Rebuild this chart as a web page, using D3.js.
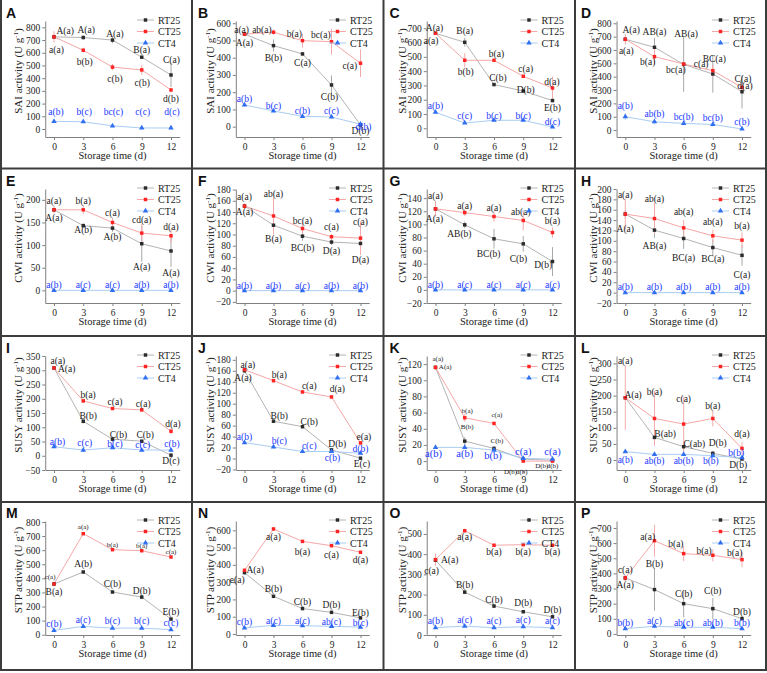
<!DOCTYPE html>
<html>
<head>
<meta charset="utf-8">
<script src="https://cdn.jsdelivr.net/npm/d3@7"></script>
<style>
  body { margin: 0; background: #fff; }
  svg { display: block; }
</style>
</head>
<body>
<div id="chart"></div>
<script>
// ---- data ----
const panelIds = ['A','B','C','D','E','F','G','H','I','J','K','L','M','N','O','P'];
const yTitles = ['SAI','SAI','SAI','SAI','CWI','CWI','CWI','CWI','SUSY','SUSY','SUSY','SUSY','STP','STP','STP','STP'];
const days = [0, 3, 6, 9, 12];
const seriesNames = ['RT25', 'CT25', 'CT4'];

const yDomains = [[-63,850],[-60,613],[-61,751],[-52,817],[-28,224],[-22,181],[-20,154],[-20,200],
                  [-50,350],[-21,187],[-11,130],[-31,323],[-2,807],[-6,654],[0,564],[-7,746]];
const yTickMin  = [0,0,0,0, 0,-20,-20,-20, -50,-20,0,0, 0,0,0,0];
const yTickMax  = [800,600,700,800, 200,180,140,200, 350,180,120,300, 800,600,500,700];
const yTickStep = [100,100,100,100, 50,20,20,20, 50,20,20,50, 100,100,100,100];

const rt25 = [
  [725,720,700,565,425],[537,470,422,242,10],[665,602,306,261,194],[680,620,492,420,287],
  [178,143,137.5,103,87],[150.6,116.5,97,86.5,84],[123.7,99.3,78,70.3,43.3],[151.6,120.6,104.5,87,72],
  [308,121,58,51,2],[160,68,58,15.7,0.6],[115.9,24.7,15.7,2.5,1],[193.4,70.3,41.4,20.7,3],
  [360,445,303,267,111],[355,218,147,125,93],[370,212,143,115,90],[370,293,200,167,101]
];
const ct25 = [
  [725,620,487,465,307],[537,548,499,493,368],[665,476,476,364,282],[680,550,495,445,320],
  [178,178,150,126.5,120.6],[150.6,133,110.6,96,93.5],[123.7,118,112,106,87.6],[151.6,143,125,109.7,101.3],
  [308,192.5,165.7,161,86],[162,142,121.4,112.3,28.4],[115.9,53.6,46.6,0,0],[193.4,129,111.7,129,36],
  [360,717,603.5,596,551.5],[368.5,608,536,511,473],[373,516,444,447,444],[370,616,530.5,519.5,491]
];
const ct4 = [
  [60,57,25,8,8],[126,91,60,56,14],[112,37,56,56,9],[100,62,50,42,8],
  [0,0,0,0,0],[0,0,0,0,0],[0,0,0,0,0],[0,0,0,0,0],
  [31.5,20,28,20,20],[29,21,12.7,12.7,9.7],[17,17,13.6,3.3,2.5],[25.9,17.6,17.6,13.4,7.2],
  [31,59,47,47,35.5],[35,50,48,44,40],[36,44,36,41,36],[35,50.6,44,44,35]
];

const rt25Err = [
  [20,15,25,10,95],[10,35,10,55,10],[10,30,10,10,10],[20,70,205,140,125],
  [5,5,8,40,35],[3,8,8,5,20],[3,5,15,12,22],[8,15,20,15,20],
  [5,8,10,5,5],[3,3,3,3,2],[2,5,3,1,1],[5,25,15,8,3],
  [10,10,10,10,10],[10,10,8,8,8],[10,10,8,5,5],[20,140,90,70,15]
];
const ct25Err = [
  [45,20,25,40,15],[5,15,40,75,80],[10,50,10,10,80],[40,60,15,45,25],
  [8,10,10,20,15],[5,33,10,5,30],[12,5,8,15,8],[30,30,15,12,15],
  [5,8,5,5,10],[3,3,3,3,3],[3,5,2,1,1],[100,85,85,25,20],
  [15,10,10,10,10],[10,10,8,8,8],[30,10,8,8,8],[20,105,50,40,50]
];
const ct4Err = [
  [5,5,8,3,3],[10,8,8,8,5],[10,5,5,5,5],[25,20,15,15,5],
  [1,1,1,1,1],[1,1,1,1,1],[1,1,1,1,1],[1,1,1,1,1],
  [5,5,5,5,5],[2,2,2,2,2],[1,1,1,1,1],[3,3,3,3,3],
  [8,8,8,8,8],[5,5,5,5,5],[3,3,3,3,3],[5,5,5,5,5]
];

// significance letters, their anchor value and day offset
const rt25Labels = [
  ['A(a)','A(a)','A(a)','B(a)','C(a)'],['A(a)','B(b)','C(a)','C(b)','D(b)'],['A(a)','B(a)','C(b)','D(b)','E(b)'],['A(a)','AB(a)','AB(a)','BC(a)','C(a)'],
  ['A(a)','A(b)','A(b)','A(a)','A(a)'],['A(a)','B(a)','BC(b)','D(a)','D(a)'],['A(a)','AB(b)','BC(b)','C(b)','D(b)'],['A(a)','AB(a)','BC(a)','BC(a)','C(a)'],
  ['A(a)','B(b)','C(b)','C(b)','D(c)'],['A(a)','B(b)','C(b)','D(b)','E(c)'],['A(a)','B(b)','C(b)','D(b)','D(b)'],['A(a)','B(ab)','C(ab)','D(b)','D(b)'],
  ['B(a)','A(b)','C(b)','D(b)','E(b)'],['A(a)','B(b)','C(b)','D(b)','E(b)'],['A(a)','B(b)','C(b)','D(b)','D(b)'],['A(a)','B(b)','C(b)','C(b)','D(b)']
];
const rt25LabelY = [
  [775,780,753,627,549],[490,403,374,174,-25],[707,684,357,268,147],[750,738,720,532,383],
  [160,134,119,53,38],[140,93,76.5,71,55],[108.5,85.5,55,48,38],[122.6,89.7,67,66,35],
  [306,142,75,75,-17.5],[146.7,78.5,67,27.8,-10],[116,42.5,24.7,-13,-6],[204,82.8,51.7,54.8,-13.4],
  [303,502,360,315,166],[372,262,185,170,125],[373,250,176,160,123],[326,462,266,288,145]
];
const rt25LabelDx = [
  [1.15,0.3,0.25,0,0.05],[0,0,0,-0.2,0],[-0.1,0,0.4,0.25,0],[0.6,0,0.25,0.15,0.1],
  [0,0,0,0,0],[0,0,0,0,0],[-0.1,-0.55,-0.55,-0.5,-0.95],[0,0,0,0,0],
  [1.3,0.5,0.6,0.35,0],[-0.15,0.6,0.7,0.6,0.15],[1.0,0.25,0.3,-1.3,-1.1],[0.8,1.1,1.1,0.5,-0.4],
  [0,0,0,0,0],[1.1,0,0,0,0],[1.45,0,0,0,0],[0,0,0,0,0]
];
const ct25Labels = [
  ['a(a)','b(b)','c(b)','c(b)','d(b)'],['a(a)','ab(a)','b(a)','bc(a)','c(a)'],['a(a)','b(b)','b(a)','c(a)','d(a)'],['a(a)','b(a)','bc(a)','c(a)','d(a)'],
  ['a(a)','b(a)','c(a)','cd(a)','d(a)'],['a(a)','ab(a)','bc(a)','c(a)','c(a)'],['a(a)','a(a)','a(a)','ab(a)','b(a)'],['a(a)','ab(a)','ab(a)','ab(a)','b(a)'],
  ['a(a)','b(a)','c(a)','c(a)','d(a)'],['a(a)','b(a)','c(a)','d(a)','e(a)'],['a(a)','b(a)','c(a)','d(b)','d(b)'],['a(a)','b(a)','c(a)','b(a)','d(a)'],
  ['c(a)','a(a)','b(a)','b(a)','c(a)'],['e(a)','a(a)','b(a)','c(a)','d(a)'],['c(a)','a(a)','b(a)','b(a)','b(a)'],['c(a)','a(a)','b(a)','b(a)','b(a)']
];
const ct25LabelY = [
  [622,533,396,367,241],[561,565,542,532,352],[614,397,525,415,327],[595,512,455,500,330],
  [198.5,198.5,172,156,141],[166.5,172,125,113.5,123.5],[144,128,126,119.6,105],[190,180.6,156,136.8,130],
  [335,215,191,184,111],[172,152.8,132.9,126.8,39],[125.8,61.9,57,-13,-6],[310,212,189,169,81],
  [409,762,639,632,585],[314.5,561,474.6,459,430],[316,484,411,411,411],[425,640,596.5,552.5,539]
];
const ct25LabelDx = [
  [0.25,0.15,0.25,0.05,0],[-0.3,-1.2,-0.85,-1.1,-1.1],[-0.45,0.1,0.25,0.25,-0.05],[0.1,-0.7,-0.8,-1.2,0.3],
  [0,0,0,0,0],[0,0,0,0,0],[0,0,0,-0.25,0],[0,0,0,0,0],
  [0.4,0.5,0.25,0.15,0.2],[0.35,0.6,0.7,0.6,0.35],[0.25,0.25,0.3,-0.15,0],[0,0,0,0,0],
  [-0.4,0,0,0,0],[-0.75,0,0,0,0],[-0.4,0,0,0,0],[0,-0.7,-0.8,-0.9,-0.75]
];
const ct4Labels = [
  ['a(b)','b(c)','bc(c)','c(c)','d(c)'],['a(b)','b(c)','c(b)','c(c)','d(b)'],['a(b)','c(c)','b(c)','b(c)','d(c)'],['a(b)','ab(b)','bc(b)','bc(b)','c(b)'],
  ['a(b)','a(c)','a(c)','a(b)','a(b)'],['a(b)','a(b)','a(c)','a(b)','a(b)'],['a(b)','a(c)','a(c)','a(c)','a(c)'],['a(b)','a(b)','a(b)','a(b)','a(b)'],
  ['a(b)','c(c)','b(c)','c(c)','c(b)'],['a(b)','b(c)','c(c)','c(b)','d(b)'],['a(b)','a(b)','b(b)','c(a)','c(a)'],['a(b)','ab(b)','ab(b)','b(b)','b(b)'],
  ['c(b)','a(c)','b(c)','b(c)','c(c)'],['c(b)','a(c)','a(c)','ab(c)','b(c)'],['a(b)','a(c)','a(c)','a(c)','a(c)'],['b(b)','a(c)','ab(c)','ab(b)','b(b)']
];
const ct4LabelY = [
  [136,136,136,136,136],[161,124,93,93,0],[156,89,89,89,45],[180,125,100,95,62],
  [12.5,12.5,12.5,12.5,12.5],[9.4,9.4,9.4,9.4,9.4],[7.6,7.6,7.6,7.6,7.6],[11,11,11,11,11],
  [51,45.5,43,40,43],[39.9,33,24,1.8,17],[9.5,9.5,6.6,11.5,11.5],[0,-3,-3,-3,23.8],
  [78,106.5,102,102,83],[73,79,79,73,64],[69,74,69,74,69],[77,90,77,77,77]
];
const ct4LabelDx = [
  [0.2,0.1,0.1,0.1,0.1],[0,0,0,0,0.3],[0,0,0,0,0],[0,0,0,0,0],
  [0,0,0,0,0],[0,0,0,0,0],[0,0,0,0,0],[0,0,0,0,0],
  [0.35,0.15,0.25,0.1,0.1],[0,0.6,0.7,0.1,0],[-0.2,0,-0.1,0,0],[0,0,0,-0.2,-0.6],
  [0,0,0,0,0],[0,0,0,0,0],[0,0,0,0,0],[0,0,0,0,0]
];

// ---- layout ----
const W = 767, H = 673;
const colX = [0, 192, 383.5, 575];
const rowY = [0, 168.5, 336, 502];
const plotTop = [21, 189, 356, 521];
const plotBottom = [137, 303, 470, 635];
const colTicks = [[54, 171], [52.5, 168.5], [52, 169], [50.3, 167]]; // px of day 0 and day 12
const serif = '"Liberation Serif", "Times New Roman", serif';

const styles = [
  { line: '#b4b4b4', err: '#a8a8a8', mark: '#2b2b2b', text: '#1a1a1a', sym: d3.symbolSquare, size: 12 },
  { line: '#f6a7a7', err: '#f4aaaa', mark: '#ff2424', text: '#1a1a1a', sym: d3.symbolSquare, size: 12 },
  { line: '#a9cdf2', err: '#a9cdf2', mark: '#2f6ff0', text: '#2038ff', sym: d3.symbolTriangle, size: 13 }
];
const values = [rt25, ct25, ct4];
const errors = [rt25Err, ct25Err, ct4Err];
const labels = [rt25Labels, ct25Labels, ct4Labels];
const labelYs = [rt25LabelY, ct25LabelY, ct4LabelY];
const labelDxs = [rt25LabelDx, ct25LabelDx, ct4LabelDx];
const smallLabelPanels = [[10], [10, 12], []];

const svg = d3.select('#chart').append('svg').attr('width', W).attr('height', H);
svg.append('rect').attr('width', W).attr('height', H).attr('fill', '#fff');

panelIds.forEach((id, i) => {
  const col = i % 4, row = Math.floor(i / 4);
  const px = colX[col];
  const [x0, x12] = colTicks[col];
  const pd = (x12 - x0) / 12;
  const x = d3.scaleLinear().domain([-0.9, 12.9]).range([px + x0 - 0.9 * pd, px + x12 + 0.9 * pd]);
  const y = d3.scaleLinear().domain(yDomains[i]).range([plotBottom[row], plotTop[row]]);
  const g = svg.append('g');

  // axes
  const yt = d3.range(yTickMin[i], yTickMax[i] + 1e-6, yTickStep[i]);
  const ya = g.append('g').attr('transform', `translate(${x.range()[0]},0)`)
    .call(d3.axisLeft(y).tickValues(yt).tickSize(3).tickSizeOuter(0).tickPadding(2));
  const xa = g.append('g').attr('transform', `translate(0,${plotBottom[row]})`)
    .call(d3.axisBottom(x).tickValues(days).tickSize(3).tickSizeOuter(0).tickPadding(3));
  [ya, xa].forEach(a => {
    a.select('.domain').attr('stroke', '#808080').attr('stroke-width', 1);
    a.selectAll('.tick line').attr('stroke', '#808080');
    a.selectAll('.tick text').attr('fill', '#222').style('font-family', serif).style('font-size', '9.5px');
  });

  // axis titles
  g.append('text')
    .attr('x', (x.range()[0] + x.range()[1]) / 2).attr('y', plotBottom[row] + 22)
    .attr('text-anchor', 'middle').attr('fill', '#222')
    .style('font-family', serif).style('font-size', '10.5px')
    .text('Storage time (d)');
  const yt2 = g.append('text')
    .attr('transform', `translate(${px + 22},${(plotTop[row] + plotBottom[row]) / 2 - 8}) rotate(-90)`)
    .attr('text-anchor', 'middle').attr('fill', '#222')
    .style('font-family', serif).style('font-size', '11px');
  yt2.append('tspan').text(yTitles[i] + ' activity (U g');
  yt2.append('tspan').attr('dy', -4).style('font-size', '7px').text('-1');
  yt2.append('tspan').attr('dy', 4).text(')');

  // panel letter
  g.append('text').attr('x', px + 6).attr('y', plotTop[row] - 3)
    .style('font-family', '"Liberation Sans", Arial, sans-serif').style('font-weight', 'bold')
    .style('font-size', '14px').attr('fill', '#111').text(id);

  // series: error bars and lines first, markers on top
  values.forEach((vals, s) => {
    const st = styles[s];
    const v = vals[i], e = errors[s][i];
    const pts = days.map((d, k) => ({ d, v: v[k], e: e[k] }));
    g.append('g').selectAll('line').data(pts).join('line')
      .attr('x1', p => x(p.d)).attr('x2', p => x(p.d))
      .attr('y1', p => y(p.v - p.e)).attr('y2', p => y(p.v + p.e))
      .attr('stroke', st.err).attr('stroke-width', 1);
    g.append('path').datum(pts)
      .attr('d', d3.line().x(p => x(p.d)).y(p => y(p.v)))
      .attr('fill', 'none').attr('stroke', st.line).attr('stroke-width', 1);
  });
  values.forEach((vals, s) => {
    const st = styles[s];
    const v = vals[i];
    g.append('g').selectAll('path').data(days).join('path')
      .attr('transform', (d, k) => `translate(${x(d)},${y(v[k])})`)
      .attr('d', d3.symbol().type(st.sym).size(st.size))
      .attr('fill', st.mark);
  });

  // significance letters
  labels.forEach((lab, s) => {
    const small = smallLabelPanels[s].includes(i);
    g.append('g').selectAll('text').data(lab[i]).join('text')
      .attr('x', (t, k) => x(days[k] + labelDxs[s][i][k]))
      .attr('y', (t, k) => y(labelYs[s][i][k]))
      .attr('dy', small ? '0.3em' : '0.35em')
      .attr('text-anchor', 'middle').attr('fill', styles[s].text)
      .style('font-family', serif).style('font-size', small ? '7px' : (s === 2 && i === 10 ? '10.5px' : '9.5px'))
      .text(t => t);
  });

  // legend
  seriesNames.forEach((name, s) => {
    const ly = plotTop[row] - 1 + s * 11.5;
    const st = styles[s];
    g.append('line').attr('x1', px + 137).attr('x2', px + 154).attr('y1', ly).attr('y2', ly)
      .attr('stroke', st.line).attr('stroke-width', 1);
    g.append('path').attr('transform', `translate(${px + 145.5},${ly})`)
      .attr('d', d3.symbol().type(st.sym).size(st.size)).attr('fill', st.mark);
    g.append('text').attr('x', px + 158).attr('y', ly).attr('dy', '0.35em')
      .style('font-family', serif).style('font-size', '10px').attr('fill', '#222').text(name);
  });
});

// panel grid
const grid = svg.append('g').attr('stroke', '#3c3c3c').attr('stroke-width', 2).attr('fill', 'none');
[1, 192, 383.5, 575, 766].forEach(gx => grid.append('line').attr('x1', gx).attr('x2', gx).attr('y1', 0).attr('y2', 670));
[168.5, 336, 502, 670].forEach(gy => grid.append('line').attr('x1', 0).attr('x2', W).attr('y1', gy).attr('y2', gy));
</script>
</body>
</html>
